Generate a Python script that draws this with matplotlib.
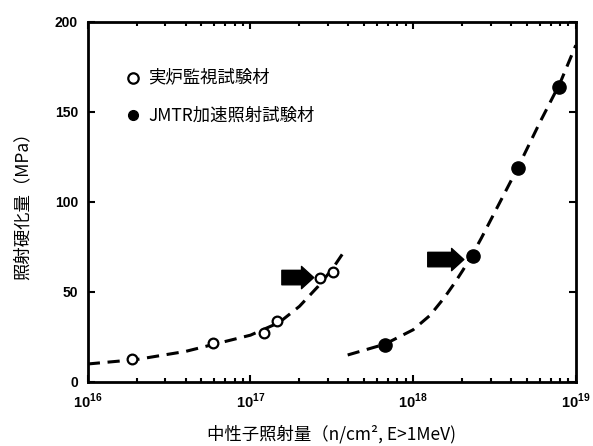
import numpy as np
import matplotlib
matplotlib.use("Agg")
import matplotlib.pyplot as plt
from matplotlib.ticker import LogLocator, NullFormatter

plt.rcParams["font.family"] = ["Noto Sans CJK JP", "DejaVu Sans"]
plt.rcParams["mathtext.fontset"] = "custom"
plt.rcParams["mathtext.rm"] = "Liberation Sans:bold"
plt.rcParams["mathtext.bf"] = "Liberation Sans:bold"

# ── データ ────────────────────────────────────────────────────────
# 実炉監視試験材 (白丸)
surv_x = [1.86e16, 5.9e16, 1.21e17, 1.45e17, 2.67e17, 3.2e17]
surv_y = [13, 21.5, 27, 34, 58, 61]
# JMTR加速照射試験材 (黒丸)
jmtr_x = [6.7e17, 2.32e18, 4.4e18, 7.85e18]
jmtr_y = [20.5, 70, 119, 164]

# 破線 (傾向線) 上の読み取り点
surv_fit_x = [1.0e16, 2.0e16, 4.0e16, 6.0e16, 1.0e17, 1.5e17, 2.0e17, 2.6e17, 3.2e17, 3.8e17]
surv_fit_y = [10, 12.5, 17, 21, 26, 33, 42, 53, 63, 73]
jmtr_fit_x = [3.96e17, 6.7e17, 1.0e18, 1.27e18, 1.56e18, 1.8e18, 2.02e18,
              2.32e18, 2.63e18, 3.0e18, 4.4e18, 6.0e18, 8.0e18, 1.0e19]
jmtr_fit_y = [15, 21, 29, 37, 47, 55, 62, 71, 80, 90, 119, 144, 166, 187]

# 矢印 (始点x, 終点x, y)
arrows = [(1.56e17, 2.45e17, 58), (1.23e18, 2.05e18, 68)]

legend_labels = ["実炉監視試験材", "JMTR加速照射試験材"]
x_ticks = [1e16, 1e17, 1e18, 1e19]
x_tick_labels = [r"$10^{16}$", r"$10^{17}$", r"$10^{18}$", r"$10^{19}$"]
y_ticks = [0, 50, 100, 150, 200]

# ── 描画 ─────────────────────────────────────────────────────────────
fig = plt.figure(figsize=(5.93, 4.46), dpi=100)
ax = fig.add_axes([0.148, 0.1435, 0.823, 0.8075])

dash = dict(color="black", linestyle=(0, (4, 2.5)), linewidth=2.2, zorder=2)
ax.plot(surv_fit_x, surv_fit_y, **dash)
ax.plot(jmtr_fit_x, jmtr_fit_y, **dash)

ax.plot(surv_x, surv_y, "o", markersize=7, markerfacecolor="white",
        markeredgecolor="black", markeredgewidth=1.6, zorder=3)
ax.plot(jmtr_x, jmtr_y, "o", markersize=9.5, color="black", zorder=3)

for x0, x1, y in arrows:
    ax.annotate("", xy=(x1, y), xytext=(x0, y),
                arrowprops=dict(arrowstyle="simple,head_length=0.55,head_width=1.0,tail_width=0.65",
                                color="black", mutation_scale=16, shrinkA=0, shrinkB=0))

# 凡例 (枠なし)
ax.plot([1.9e16], [169], "o", markersize=7.5, markerfacecolor="white",
        markeredgecolor="black", markeredgewidth=1.6)
ax.plot([1.9e16], [148], "o", markersize=7, color="black")
ax.text(2.35e16, 169, legend_labels[0], fontsize=12.5, va="center", ha="left")
ax.text(2.35e16, 148, legend_labels[1], fontsize=12.5, va="center", ha="left")

ax.set_xscale("log")
ax.set_xlim(1e16, 1e19)
ax.set_ylim(0, 200)
ax.set_xticks(x_ticks)
ax.set_xticklabels(x_tick_labels, fontsize=10.5)
ax.xaxis.set_minor_locator(LogLocator(base=10, subs=np.arange(2, 10)))
ax.xaxis.set_minor_formatter(NullFormatter())
ax.set_yticks(y_ticks)
ax.set_yticklabels([str(v) for v in y_ticks], fontsize=10, fontweight="bold",
                   family="Liberation Sans")

ax.tick_params(which="both", direction="in", top=True, right=True, width=1.5)
ax.tick_params(which="major", length=5, pad=7)
ax.tick_params(which="minor", length=3)
for s in ax.spines.values():
    s.set_linewidth(2)

ax.set_xlabel("中性子照射量（n/cm², E>1MeV)", fontsize=12.5, labelpad=10)
ax.set_ylabel("照射硬化量（MPa）", fontsize=12.5, labelpad=17)

fig.savefig("out.png", dpi=100)
